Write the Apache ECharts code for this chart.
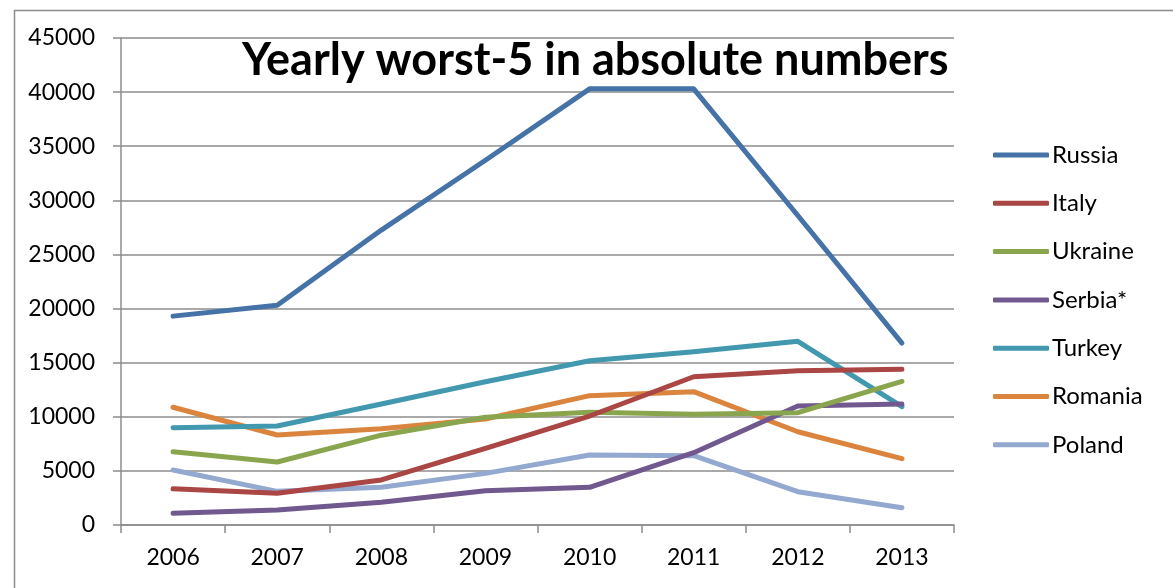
<!DOCTYPE html>
<html>
<head>
    <meta charset="utf-8">
    <title>Yearly worst-5</title>
    <script src="https://cdn.jsdelivr.net/npm/echarts@6/dist/echarts.min.js"></script>
    <style>
        html, body { margin: 0; padding: 0; background: #fff; }
        #chart { width: 1173px; height: 588px; }
    </style>
</head>
<body>
<div id="chart"></div>
<script>
    var years = ['2006', '2007', '2008', '2009', '2010', '2011', '2012', '2013'];
    var russia  = [19300, 20300, 27250, 33700, 40300, 40300, 28600, 16800];
    var italy   = [3350, 2930, 4160, 7090, 10070, 13700, 14260, 14390];
    var ukraine = [6770, 5820, 8300, 9950, 10410, 10230, 10380, 13280];
    var serbia  = [1080, 1390, 2100, 3170, 3480, 6680, 11000, 11180];
    var turkey  = [8990, 9150, 11180, 13240, 15180, 16010, 16970, 10930];
    var romania = [10880, 8320, 8900, 9800, 11950, 12320, 8620, 6130];
    var poland  = [5080, 3110, 3480, 4770, 6470, 6400, 3080, 1600];

    var names = ['Russia', 'Italy', 'Ukraine', 'Serbia*', 'Turkey', 'Romania', 'Poland'];
    var colors = ['#4572A7', '#AA4643', '#89A54E', '#71588F', '#4198AF', '#DB843D', '#93A9CF'];
    var values = [russia, italy, ukraine, serbia, turkey, romania, poland];

    var font = 'Lato, "Liberation Sans", sans-serif';
    var chart = echarts.init(document.getElementById('chart'));

    var series = names.map(function (n, i) {
        return {
            name: n,
            type: 'line',
            data: values[i],
            symbol: 'none',
            lineStyle: {width: 5, color: colors[i], cap: 'round', join: 'round'},
            itemStyle: {color: colors[i]},
            z: 10 - i
        };
    });

    chart.setOption({
        animation: false,
        color: colors,
        title: {
            text: 'Yearly worst-5 in absolute numbers',
            left: 242,
            top: 38,
            padding: 0,
            textStyle: {fontFamily: font, fontWeight: 'bold', fontSize: 45, color: '#000'}
        },
        graphic: [{
            type: 'rect',
            left: 12,
            top: 8,
            shape: {width: 1200, height: 620},
            style: {fill: 'none', stroke: '#8c8c8c', lineWidth: 1.5},
            silent: true
        }],
        legend: {
            orient: 'vertical',
            left: 993,
            top: 143,
            padding: 0,
            itemWidth: 56,
            itemHeight: 5,
            itemGap: 24.3,
            icon: 'roundRect',
            textStyle: {fontFamily: font, fontSize: 24, color: '#000', padding: [0, 0, 0, -2]},
            data: names
        },
        grid: {left: 121, right: 219, top: 38, bottom: 63},
        xAxis: {
            type: 'category',
            data: years,
            boundaryGap: true,
            axisLine: {lineStyle: {color: '#8c8c8c', width: 1.5}},
            axisTick: {show: true, length: 8, inside: false, lineStyle: {color: '#8c8c8c', width: 1.5}},
            axisLabel: {fontFamily: font, fontSize: 23, color: '#000', margin: 21}
        },
        yAxis: {
            type: 'value',
            min: 0,
            max: 45000,
            interval: 5000,
            axisLine: {show: true, lineStyle: {color: '#8c8c8c', width: 1.5}},
            axisTick: {show: true, length: 8, lineStyle: {color: '#8c8c8c', width: 1.5}},
            axisLabel: {fontFamily: font, fontSize: 23, color: '#000', margin: 26,
                formatter: function (v) { return String(v); }},
            splitLine: {lineStyle: {color: '#8c8c8c', width: 1.5}}
        },
        series: series
    });
</script>
</body>
</html>
